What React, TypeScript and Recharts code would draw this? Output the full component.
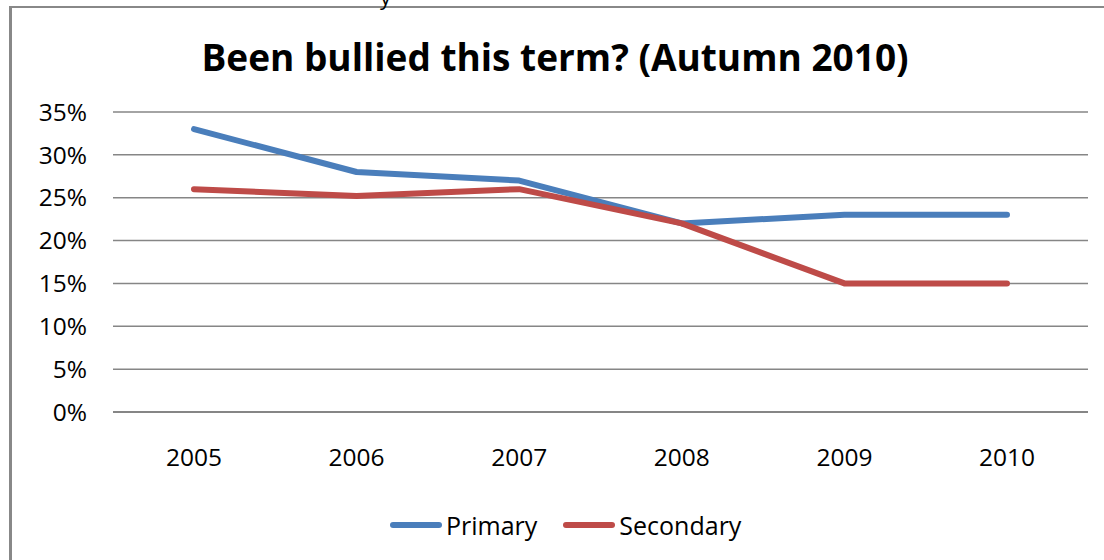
import React from "react";
import { LineChart, Line, XAxis, YAxis, CartesianGrid, Legend } from "recharts";

const years = ["2005", "2006", "2007", "2008", "2009", "2010"];
const primary = [0.33, 0.28, 0.27, 0.22, 0.23, 0.23];
const secondary = [0.26, 0.252, 0.26, 0.22, 0.15, 0.15];
const yTicks = [0, 0.05, 0.1, 0.15, 0.2, 0.25, 0.3, 0.35];
const seriesNames = ["Primary", "Secondary"];
const seriesColors = ["#4A7EBB", "#BE4B48"];

const data = years.map((y, i) => ({ year: y, Primary: primary[i], Secondary: secondary[i] }));

const FONT = "'Open Sans', 'Noto Sans', sans-serif";

const LegendContent = () => (
  <div style={{ display: "flex", justifyContent: "flex-start", alignItems: "center", paddingLeft: 390, fontFamily: FONT, fontSize: 25, color: "#000", lineHeight: "30px" }}>
    {seriesNames.map((n, i) => (
      <div key={n} style={{ display: "flex", alignItems: "center", marginRight: 26 }}>
        <div style={{ width: 52, height: 6, borderRadius: 3, background: seriesColors[i], marginRight: 4 }} />
        <span>{n}</span>
      </div>
    ))}
  </div>
);

export default function App() {
  return (
    <div style={{ position: "absolute", left: 0, top: 0, width: 1104, height: 560, background: "#fff", overflow: "hidden" }}>
      <div style={{ position: "absolute", left: 9, top: 6, right: -10, bottom: -10, borderLeft: "3px solid #888", borderTop: "2px solid #888" }} />
      <div style={{ position: "absolute", left: 380, top: -19, fontFamily: FONT, fontSize: 22, color: "#000" }}>y</div>
      <div style={{ position: "absolute", left: 0, top: 31, width: 1110, textAlign: "center", fontFamily: FONT, fontWeight: 700, fontSize: 37, color: "#000", lineHeight: "52px" }}>
        Been bullied this term? (Autumn 2010)
      </div>
      <div style={{ position: "absolute", left: 0, top: 0 }}>
        <LineChart width={1104} height={560} data={data} margin={{ top: 112, right: 16, left: 0, bottom: 48 }}>
          <CartesianGrid vertical={false} stroke="#868686" strokeWidth={1.5} />
          <XAxis
            dataKey="year"
            height={60}
            padding={{ left: 81, right: 81 }}
            tickLine={false}
            axisLine={{ stroke: "#868686", strokeWidth: 2 }}
            tickSize={0}
            tickMargin={37}
            tick={{ fill: "#000", fontSize: 24.5, fontFamily: FONT }}
          />
          <YAxis
            width={113}
            domain={[0, 0.35]}
            ticks={yTicks}
            tickFormatter={(v: number) => `${Math.round(v * 100)}%`}
            axisLine={false}
            tickLine={false}
            tickSize={0}
            tickMargin={26}
            tick={{ fill: "#000", fontSize: 24.5, fontFamily: FONT }}
          />
          <Legend verticalAlign="bottom" height={40} content={<LegendContent />} wrapperStyle={{ top: 510, left: 0, width: 1104 }} />
          <Line type="linear" dataKey="Primary" stroke={seriesColors[0]} strokeWidth={6} dot={false} isAnimationActive={false} strokeLinecap="round" strokeLinejoin="round" />
          <Line type="linear" dataKey="Secondary" stroke={seriesColors[1]} strokeWidth={6} dot={false} isAnimationActive={false} strokeLinecap="round" strokeLinejoin="round" />
        </LineChart>
      </div>
    </div>
  );
}
